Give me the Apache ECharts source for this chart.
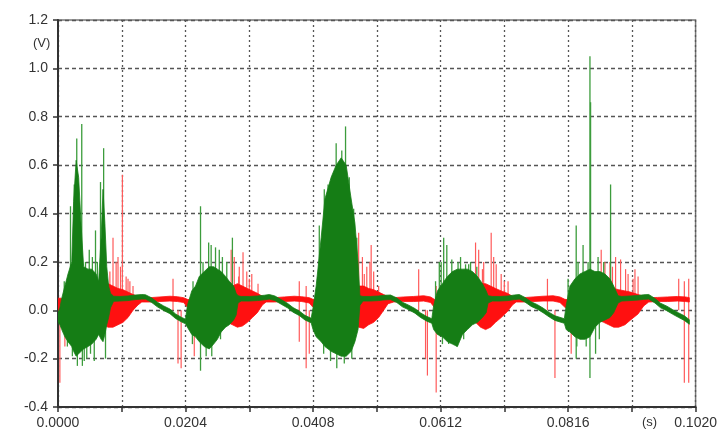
<!DOCTYPE html>
<html>
<head>
<meta charset="utf-8">
<script src="https://cdn.jsdelivr.net/npm/echarts@6/dist/echarts.min.js"></script>
<style>
  html, body { margin: 0; padding: 0; background: #fff; }
  #chart { width: 720px; height: 430px; }
</style>
</head>
<body>
<div id="chart"></div>
<script>
// time in ms (axis labels shown in s), voltage in V
var greenT = [0.0,0.3,0.6,1.1,1.6,2.2,2.5,2.9,3.3,3.7,4.1,4.8,5.4,6.1,6.5,6.9,7.2,7.5,7.8,8.1,8.4,
  8.9,9.9,11.2,12.4,13.4,14.0,15.0,15.9,16.9,17.9,18.8,19.8,20.4,
  20.7,21.4,22.0,22.6,23.4,24.2,24.9,25.5,26.1,26.8,27.4,28.1,28.5,28.8,
  29.3,30.6,31.9,33.0,33.8,34.7,35.7,36.7,37.6,38.6,39.5,40.5,
  40.8,41.3,42.1,42.7,43.7,44.5,45.3,46.1,46.9,47.5,48.0,48.3,
  48.8,50.0,51.3,52.3,53.2,54.2,55.1,56.1,57.1,58.0,59.0,59.8,
  60.1,60.7,61.5,62.3,63.1,63.9,64.7,65.5,66.3,67.1,67.9,68.5,68.8,
  69.5,70.7,72.0,73.0,73.8,74.7,75.7,76.7,77.6,78.6,79.5,81.0,
  81.3,81.9,82.7,83.5,84.3,85.1,85.9,86.7,87.5,88.3,88.9,89.6,
  90.2,91.5,92.8,93.7,94.5,95.5,96.4,97.4,98.3,99.3,100.2,101.0];
var greenHi = [-0.01,0.01,0.05,0.10,0.15,0.20,0.45,0.62,0.55,0.35,0.18,0.17,0.17,0.15,0.12,0.30,0.50,0.36,0.18,0.10,0.07,
  0.058,0.057,0.059,0.063,0.065,0.064,0.051,0.033,0.018,0.005,-0.015,-0.030,-0.037,
  0.02,0.08,0.10,0.14,0.16,0.18,0.18,0.17,0.16,0.14,0.12,0.10,0.07,0.06,
  0.057,0.057,0.059,0.062,0.065,0.059,0.044,0.029,0.011,-0.003,-0.021,-0.033,
  0.01,0.10,0.30,0.46,0.55,0.60,0.63,0.60,0.46,0.36,0.20,0.06,
  0.057,0.057,0.059,0.062,0.063,0.051,0.033,0.021,0.007,-0.011,-0.026,-0.035,
  0.02,0.08,0.11,0.14,0.16,0.17,0.17,0.17,0.16,0.14,0.11,0.08,0.06,
  0.057,0.057,0.059,0.063,0.065,0.053,0.035,0.023,0.009,-0.009,-0.023,-0.035,
  0.02,0.10,0.13,0.15,0.16,0.17,0.16,0.16,0.15,0.13,0.10,0.06,
  0.057,0.059,0.061,0.064,0.065,0.049,0.029,0.017,0.003,-0.011,-0.023,-0.039];
var greenLo = [-0.05,-0.06,-0.08,-0.11,-0.13,-0.15,-0.17,-0.19,-0.18,-0.17,-0.16,-0.15,-0.14,-0.12,-0.10,-0.12,-0.13,-0.10,-0.06,-0.03,0.01,
  0.037,0.038,0.040,0.044,0.046,0.046,0.032,0.014,-0.001,-0.014,-0.034,-0.049,-0.056,
  -0.07,-0.10,-0.11,-0.13,-0.15,-0.16,-0.14,-0.12,-0.09,-0.07,-0.06,-0.04,-0.02,0.03,
  0.038,0.038,0.040,0.043,0.046,0.040,0.025,0.010,-0.008,-0.022,-0.040,-0.052,
  -0.08,-0.11,-0.13,-0.15,-0.17,-0.18,-0.19,-0.19,-0.17,-0.13,-0.08,0.02,
  0.038,0.038,0.040,0.043,0.044,0.032,0.014,0.002,-0.012,-0.030,-0.045,-0.054,
  -0.08,-0.10,-0.11,-0.13,-0.14,-0.15,-0.10,-0.08,-0.06,-0.05,-0.03,-0.01,0.03,
  0.038,0.038,0.040,0.044,0.046,0.034,0.016,0.004,-0.010,-0.028,-0.042,-0.054,
  -0.08,-0.09,-0.11,-0.12,-0.12,-0.11,-0.07,-0.05,-0.04,-0.03,-0.01,0.03,
  0.038,0.040,0.042,0.045,0.046,0.030,0.010,-0.002,-0.016,-0.030,-0.042,-0.058];

var redT = [0.0,0.5,1.0,3.5,6.7,7.3,8.0,8.8,9.6,10.4,11.2,12.0,12.8,13.4,
  14.7,16.3,17.9,19.1,20.1,20.7,
  21.8,25.0,27.1,27.9,28.7,29.5,30.3,31.1,31.9,32.7,33.3,
  34.6,36.2,37.8,39.0,40.2,40.8,
  43.4,46.5,47.5,48.1,48.9,49.7,50.5,51.3,52.1,52.8,
  53.7,55.3,56.9,58.5,59.6,60.2,
  63.3,65.7,66.8,67.6,68.4,69.2,70.0,70.9,71.9,72.7,73.3,
  74.4,76.0,77.6,79.2,80.3,81.1,
  84.0,86.4,87.3,88.1,88.9,89.7,90.7,91.6,92.8,93.7,94.5,
  95.9,97.5,99.1,100.4,101.0];
var redHi = [0.05,0.05,0.04,0.04,0.06,0.10,0.11,0.10,0.09,0.085,0.075,0.065,0.058,0.052,
  0.052,0.055,0.058,0.056,0.052,0.045,
  0.04,0.04,0.06,0.10,0.11,0.10,0.09,0.08,0.07,0.058,0.052,
  0.052,0.055,0.058,0.056,0.052,0.045,
  0.04,0.05,0.08,0.10,0.10,0.09,0.085,0.075,0.065,0.056,
  0.052,0.055,0.057,0.060,0.055,0.045,
  0.04,0.05,0.09,0.11,0.11,0.10,0.09,0.08,0.07,0.058,0.052,
  0.052,0.055,0.058,0.060,0.055,0.045,
  0.04,0.05,0.08,0.09,0.09,0.085,0.08,0.075,0.065,0.058,0.052,
  0.053,0.055,0.057,0.055,0.052];
var redLo = [0.00,-0.01,-0.02,-0.04,-0.05,-0.06,-0.07,-0.07,-0.06,-0.05,-0.03,0.00,0.022,0.034,
  0.034,0.036,0.038,0.036,0.032,0.012,
  -0.02,-0.04,-0.05,-0.06,-0.07,-0.065,-0.05,-0.03,-0.01,0.022,0.034,
  0.034,0.036,0.038,0.036,0.030,0.012,
  -0.03,-0.05,-0.06,-0.07,-0.075,-0.06,-0.05,-0.03,0.00,0.027,
  0.034,0.036,0.036,0.038,0.032,0.012,
  -0.03,-0.04,-0.05,-0.07,-0.08,-0.07,-0.05,-0.03,-0.005,0.022,0.034,
  0.034,0.036,0.038,0.038,0.032,0.012,
  -0.03,-0.04,-0.05,-0.06,-0.07,-0.07,-0.06,-0.04,-0.015,0.018,0.034,
  0.036,0.036,0.038,0.036,0.034];

var redSpikeT = [0.3,1.1, 8.8,9.3,9.6,10.3,10.9,11.5,12.0, 18.4,19.2,19.7, 21.8,
  27.7,28.2,29.0,29.6,30.2,31.0,32.0, 38.6,38.6,39.7,39.7,40.2,
  48.1,48.7,49.4,50.1,50.5,51.3, 57.7,58.8,59.1,60.5,60.5,
  66.8,67.3,68.1,69.3,70.1,70.9,72.0, 78.3,79.5,82.1,
  86.9,87.5,88.3,89.2,90.0,90.8,92.3,92.8, 99.3,100.2,100.2,100.9,100.9,
  8.3,10.0,11.2,28.9,30.6,49.0,49.9,67.9,69.7,71.4,88.7,91.2,92.0];
var redSpikeV = [-0.30,-0.15, 0.30,0.20,0.22,0.56,0.14,0.12,0.10, 0.13,-0.22,-0.24, -0.19,
  0.25,0.22,0.18,0.24,0.16,0.15,0.11, 0.12,-0.13,0.10,-0.24,-0.18,
  0.32,0.22,0.18,0.27,0.16,0.10, 0.17,-0.20,-0.27,-0.34,0.10,
  0.28,0.25,0.20,0.32,0.19,0.15,0.12, 0.13,-0.28,-0.18,
  0.25,0.20,0.20,0.22,0.21,0.17,0.17,0.14, 0.13,-0.30,0.12,-0.30,0.13,
  0.16,0.18,0.13,0.14,0.13,0.15,0.20,0.17,0.22,0.12,0.18,0.15,0.13];

var greenSpikeT = [1.5,2.0,3.0,3.1,3.8,3.9,4.6,5.5,5.8,6.0,7.3,7.6,
  22.8,22.8,23.7,24.1,24.5,25.2,25.8,27.9,
  42.6,43.6,44.5,44.6,45.4,45.8,46.0,47.3,
  61.0,61.7,62.2,62.5,63.0,63.8,64.4,65.2,65.7,
  82.9,82.9,84.0,84.5,85.1,85.2,85.1,86.0,88.4,
  1.0,2.6,4.4,5.0,6.3,6.8,2.3,5.2,4.2,
  21.6,23.2,26.3,27.0,21.5,24.6,26.0,
  41.8,43.2,46.6,47.8,42.5,47.0,
  60.4,61.3,64.0,66.0,67.0,61.5,64.9,
  81.6,83.2,84.8,86.4,87.3,83.0,86.6];
var greenSpikeV = [-0.15,0.43,0.71,-0.23,0.77,-0.23,-0.20,0.22,-0.21,0.33,0.67,-0.20,
  0.43,-0.25,-0.19,0.28,0.27,0.26,0.25,0.30,
  0.50,-0.21,0.69,-0.24,0.66,-0.22,0.76,0.42,
  0.20,0.30,0.27,-0.14,0.21,-0.15,0.22,0.19,0.19,
  0.35,-0.20,0.27,-0.15,1.05,0.86,-0.28,-0.18,0.52,
  0.12,0.52,0.20,0.25,0.20,0.53,-0.19,-0.18,-0.21,
  0.12,0.20,0.22,0.20,-0.14,-0.19,-0.12,
  0.35,0.52,0.55,0.30,-0.18,-0.20,
  0.12,0.20,0.20,0.20,0.18,-0.14,-0.12,
  0.13,0.20,0.20,0.22,0.20,-0.15,-0.12];

var xTicksEvery = 10.2;

// one polygon per band: upper envelope forward, lower envelope back
function bandSeries(t, hi, lo, color) {
  return {
    type: 'custom', clip: true,
    encode: { x: 0, y: [1, 2] },
    data: t.map(function (x, i) { return [x, hi[i], lo[i]]; }),
    renderItem: function (params, api) {
      if (params.dataIndex !== 0) return null;
      var pts = [];
      for (var i = 0; i < t.length; i++) pts.push(api.coord([t[i], hi[i]]));
      for (var j = t.length - 1; j >= 0; j--) pts.push(api.coord([t[j], lo[j]]));
      return {
        type: 'polygon',
        shape: { points: pts },
        style: { fill: color, stroke: color, lineWidth: 0.8 }
      };
    }
  };
}
function spikeSeries(t, v, color, w) {
  return {
    type: 'custom', clip: true,
    encode: { x: 0, y: 1 },
    data: t.map(function (x, i) { return [x, v[i]]; }),
    renderItem: function (params, api) {
      var p0 = api.coord([api.value(0), 0]);
      var p1 = api.coord([api.value(0), api.value(1)]);
      return {
        type: 'line',
        shape: { x1: p0[0], y1: p0[1], x2: p1[0], y2: p1[1] },
        style: { stroke: color, lineWidth: w }
      };
    }
  };
}

var chart = echarts.init(document.getElementById('chart'));
var option = {
  animation: false,
  backgroundColor: '#fff',
  grid: { left: 58, right: 22, top: 20, bottom: 23, show: true, borderColor: '#777', borderWidth: 1.5 },
  xAxis: {
    type: 'value', min: 0, max: 102, interval: xTicksEvery,
    axisLine: { show: true, onZero: false, lineStyle: { color: '#333', width: 2 } },
    axisTick: { show: true, length: 5, lineStyle: { color: '#333', width: 1.5 } },
    axisLabel: {
      margin: 9, color: '#333', fontSize: 14, fontFamily: 'Liberation Sans, Arial, sans-serif',
      formatter: function (v) {
        return Math.round(v / xTicksEvery) % 2 === 0 ? (v / 1000).toFixed(4) : '';
      }
    },
    splitLine: { show: true, lineStyle: { color: '#555', width: 1.3, type: [2, 3] } }
  },
  yAxis: {
    type: 'value', min: -0.4, max: 1.2, interval: 0.2,
    axisLine: { show: true, lineStyle: { color: '#333', width: 2 } },
    axisTick: { show: true, length: 5, lineStyle: { color: '#333', width: 1.5 } },
    axisLabel: {
      margin: 10, color: '#333', fontSize: 14, fontFamily: 'Liberation Sans, Arial, sans-serif',
      formatter: function (v) { return v.toFixed(1); }
    },
    splitLine: { show: true, lineStyle: { color: '#555', width: 1.3, type: [4, 3] } }
  },
  graphic: [
    { type: 'text', left: 33, top: 37, style: { text: '(V)', fill: '#333', font: '13px Liberation Sans, Arial, sans-serif' } },
    { type: 'text', left: 642, top: 416, style: { text: '(s)', fill: '#333', font: '13px Liberation Sans, Arial, sans-serif' } }
  ],
  series: [
    spikeSeries(redSpikeT, redSpikeV, '#ff5a5a', 1.2),
    bandSeries(redT, redHi, redLo, '#ff1010'),
    spikeSeries(greenSpikeT, greenSpikeV, '#3c9c3c', 1.3),
    bandSeries(greenT, greenHi, greenLo, '#157d15')
  ]
};
chart.setOption(option);
</script>
</body>
</html>
